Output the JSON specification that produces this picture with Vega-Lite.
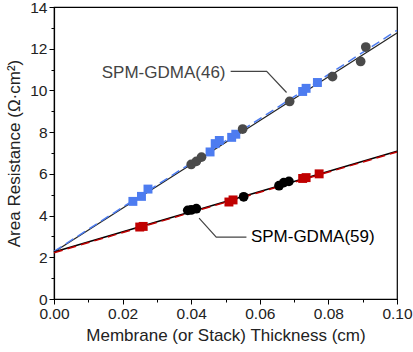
{
  "$schema": "https://vega.github.io/schema/vega-lite/v6.json",
  "width": 343,
  "height": 292,
  "autosize": "none",
  "padding": {"left": 54, "top": 7, "right": 16, "bottom": 53},
  "background": "white",
  "config": {
    "font": "Liberation Sans",
    "view": {"stroke": "black", "strokeWidth": 1.2},
    "axis": {"grid": false, "domainColor": "black", "tickColor": "black", "labelColor": "#222", "titleColor": "#222", "labelFontSize": 15.5, "titleFontSize": 17, "titleFontWeight": "normal", "domainWidth": 1.2, "tickWidth": 1}
  },
  "datasets": {
    "pts": [
      {"x": 0.0230, "y": 4.68, "s": "b46"},
      {"x": 0.0255, "y": 4.92, "s": "b46"},
      {"x": 0.0274, "y": 5.27, "s": "b46"},
      {"x": 0.0455, "y": 7.05, "s": "b46"},
      {"x": 0.0470, "y": 7.45, "s": "b46"},
      {"x": 0.0482, "y": 7.60, "s": "b46"},
      {"x": 0.0518, "y": 7.75, "s": "b46"},
      {"x": 0.0530, "y": 7.90, "s": "b46"},
      {"x": 0.0725, "y": 9.95, "s": "b46"},
      {"x": 0.0735, "y": 10.10, "s": "b46"},
      {"x": 0.0768, "y": 10.38, "s": "b46"},
      {"x": 0.0400, "y": 6.45, "s": "g46"},
      {"x": 0.0415, "y": 6.60, "s": "g46"},
      {"x": 0.0430, "y": 6.80, "s": "g46"},
      {"x": 0.0550, "y": 8.15, "s": "g46"},
      {"x": 0.0687, "y": 9.47, "s": "g46"},
      {"x": 0.0812, "y": 10.66, "s": "g46"},
      {"x": 0.0894, "y": 11.39, "s": "g46"},
      {"x": 0.0909, "y": 12.08, "s": "g46"},
      {"x": 0.0250, "y": 3.45, "s": "r59"},
      {"x": 0.0260, "y": 3.48, "s": "r59"},
      {"x": 0.0510, "y": 4.65, "s": "r59"},
      {"x": 0.0522, "y": 4.75, "s": "r59"},
      {"x": 0.0725, "y": 5.78, "s": "r59"},
      {"x": 0.0735, "y": 5.82, "s": "r59"},
      {"x": 0.0773, "y": 6.00, "s": "r59"},
      {"x": 0.0390, "y": 4.25, "s": "k59"},
      {"x": 0.0400, "y": 4.27, "s": "k59"},
      {"x": 0.0415, "y": 4.33, "s": "k59"},
      {"x": 0.0553, "y": 4.90, "s": "k59"},
      {"x": 0.0656, "y": 5.43, "s": "k59"},
      {"x": 0.0670, "y": 5.58, "s": "k59"},
      {"x": 0.0685, "y": 5.64, "s": "k59"}
    ],
    "fits": [
      {"x": 0.0, "y": 2.25, "s": "k46"},
      {"x": 0.1, "y": 12.75, "s": "k46"},
      {"x": 0.0, "y": 2.28, "s": "b46"},
      {"x": 0.1, "y": 12.88, "s": "b46"},
      {"x": 0.0, "y": 2.25, "s": "k59"},
      {"x": 0.1, "y": 7.08, "s": "k59"},
      {"x": 0.0, "y": 2.22, "s": "r59"},
      {"x": 0.1, "y": 7.05, "s": "r59"}
    ],
    "leaders": [
      {"x": 0.0515, "y": 10.91, "g": "a", "o": 1},
      {"x": 0.0620, "y": 10.91, "g": "a", "o": 2},
      {"x": 0.0678, "y": 9.90, "g": "a", "o": 3},
      {"x": 0.0561, "y": 2.97, "g": "b", "o": 1},
      {"x": 0.0473, "y": 2.97, "g": "b", "o": 2},
      {"x": 0.0423, "y": 3.88, "g": "b", "o": 3}
    ],
    "labels": [
      {"x": 0.0500, "y": 10.85, "t": "SPM-GDMA(46)", "s": "a"},
      {"x": 0.0574, "y": 2.97, "t": "SPM-GDMA(59)", "s": "b"}
    ]
  },
  "encoding": {
    "x": {"field": "x", "type": "quantitative", "scale": {"domain": [0, 0.1], "nice": false},
      "axis": {"title": "Membrane (or Stack) Thickness (cm)", "values": [0, 0.01, 0.02, 0.03, 0.04, 0.05, 0.06, 0.07, 0.08, 0.09, 0.1],
        "labelExpr": "round(datum.value*100) % 2 === 0 ? format(datum.value, '.2f') : ''",
        "tickSize": {"condition": {"test": "round(datum.value*100) % 2 === 0", "value": 5}, "value": 3},
        "labelPadding": 2, "titlePadding": 6, "labelFlush": false}},
    "y": {"field": "y", "type": "quantitative", "scale": {"domain": [0, 14], "nice": false},
      "axis": {"title": "Area Resistance (Ω·cm²)", "values": [0,1,2,3,4,5,6,7,8,9,10,11,12,13,14],
        "labelExpr": "datum.value % 2 === 0 ? datum.label : ''",
        "tickSize": {"condition": {"test": "datum.value % 2 === 0", "value": 5}, "value": 3},
        "labelPadding": 2, "titlePadding": 6, "labelFlush": false}}
  },
  "layer": [
    {"data": {"name": "fits"}, "transform": [{"filter": "datum.s === 'k46'"}], "mark": {"type": "line", "color": "#222222", "strokeWidth": 1.2}},
    {"data": {"name": "fits"}, "transform": [{"filter": "datum.s === 'b46'"}], "mark": {"type": "line", "color": "#4d7cf0", "strokeWidth": 1.5, "strokeDash": [9, 5]}},
    {"data": {"name": "fits"}, "transform": [{"filter": "datum.s === 'k59'"}], "mark": {"type": "line", "color": "#000000", "strokeWidth": 1.5}},
    {"data": {"name": "fits"}, "transform": [{"filter": "datum.s === 'r59'"}], "mark": {"type": "line", "color": "#c00000", "strokeWidth": 1.5, "strokeDash": [9, 5]}},
    {"data": {"name": "pts"}, "transform": [{"filter": "datum.s === 'b46'"}], "mark": {"type": "point", "shape": "square", "filled": true, "opacity": 1, "color": "#4d7cf0", "size": 80}},
    {"data": {"name": "pts"}, "transform": [{"filter": "datum.s === 'g46'"}], "mark": {"type": "point", "shape": "circle", "filled": true, "opacity": 1, "color": "#4a4a4a", "size": 95}},
    {"data": {"name": "pts"}, "transform": [{"filter": "datum.s === 'r59'"}], "mark": {"type": "point", "shape": "square", "filled": true, "opacity": 1, "color": "#c00000", "size": 80}},
    {"data": {"name": "pts"}, "transform": [{"filter": "datum.s === 'k59'"}], "mark": {"type": "point", "shape": "circle", "filled": true, "opacity": 1, "color": "#000000", "size": 95}},
    {"data": {"name": "leaders"}, "mark": {"type": "line", "color": "#444444", "strokeWidth": 1.2},
      "encoding": {"detail": {"field": "g"}, "order": {"field": "o", "type": "quantitative"}}},
    {"data": {"name": "labels"}, "transform": [{"filter": "datum.s === 'a'"}], "mark": {"type": "text", "fontSize": 17, "baseline": "middle", "align": "right", "color": "#444444"},
      "encoding": {"text": {"field": "t"}}},
    {"data": {"name": "labels"}, "transform": [{"filter": "datum.s === 'b'"}], "mark": {"type": "text", "fontSize": 17, "baseline": "middle", "align": "left", "color": "#000000"},
      "encoding": {"text": {"field": "t"}}}
  ]
}
